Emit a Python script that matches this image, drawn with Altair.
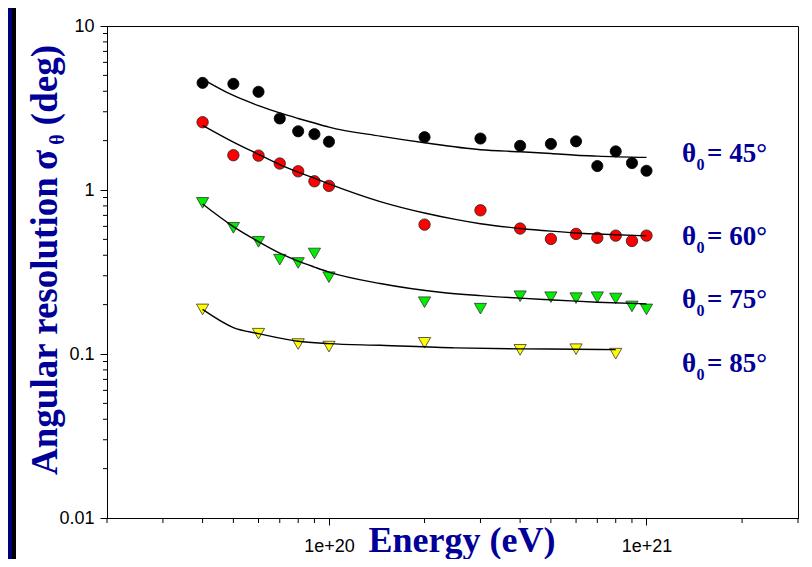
import altair as alt
import pandas as pd

# ---------------- data ----------------
energy = [4e19, 5e19, 6e19, 7e19, 8e19, 9e19, 1e20, 2e20, 3e20, 4e20, 5e20, 6e20, 7e20, 8e20, 9e20, 1e21]
sigma45 = [4.50, 4.44, 3.97, 2.73, 2.28, 2.19, 1.97, 2.10, 2.06, 1.86, 1.91, 1.98, 1.40, 1.72, 1.46, 1.31]
sigma60 = [2.59, 1.63, 1.62, 1.45, 1.30, 1.13, 1.06, 0.615, 0.752, 0.582, 0.503, 0.540, 0.511, 0.527, 0.489, 0.527]
sigma75 = [0.835, 0.588, 0.483, 0.376, 0.359, 0.410, 0.294, 0.207, 0.189, 0.225, 0.222, 0.219, 0.222, 0.218, 0.195, 0.187]
energy85 = [4e19, 6e19, 8e19, 1e20, 2e20, 4e20, 6e20, 8e20]
sigma85 = [0.187, 0.133, 0.115, 0.111, 0.117, 0.106, 0.107, 0.1005]

fit45_e = [4e19, 5e19, 6e19, 7e19, 8e19, 9e19, 1e20, 1.45e20, 2e20, 3e20, 4e20, 5e20, 6e20, 7e20, 1e21]
fit45_s = [4.75, 3.77, 3.27, 2.95, 2.73, 2.56, 2.42, 2.13, 1.94, 1.76, 1.71, 1.67, 1.63, 1.61, 1.58]
fit60_e = [4e19, 5e19, 6e19, 7e19, 8e19, 9e19, 1e20, 1.45e20, 2e20, 2.5e20, 3e20, 4e20, 5e20, 6e20, 7e20, 1e21]
fit60_s = [2.48, 1.96, 1.65, 1.43, 1.285, 1.18, 1.09, 0.85, 0.724, 0.662, 0.623, 0.583, 0.561, 0.547, 0.539, 0.525]
fit75_e = [4e19, 5e19, 6e19, 7e19, 8e19, 9e19, 1e20, 1.45e20, 2.24e20, 3e20, 4e20, 5e20, 6e20, 7e20, 1e21]
fit75_s = [0.821, 0.598, 0.484, 0.412, 0.3685, 0.339, 0.316, 0.269, 0.238, 0.227, 0.219, 0.214, 0.210, 0.207, 0.202]
fit85_e = [4e19, 5e19, 6e19, 7e19, 8e19, 1e20, 1.45e20, 2.5e20, 4e20, 6e20, 8e20]
fit85_s = [0.187, 0.145, 0.133, 0.125, 0.1195, 0.1156, 0.113, 0.109, 0.1074, 0.107, 0.1063]

x_major = [1e20, 1e21]
x_minor = [2e19, 3e19, 4e19, 5e19, 6e19, 7e19, 8e19, 9e19,
           2e20, 3e20, 4e20, 5e20, 6e20, 7e20, 8e20, 9e20, 2e21, 3e21]
y_major = [0.01, 0.1, 1, 10]
y_minor = [0.02, 0.03, 0.04, 0.05, 0.06, 0.07, 0.08, 0.09,
           0.2, 0.3, 0.4, 0.5, 0.6, 0.7, 0.8, 0.9,
           2, 3, 4, 5, 6, 7, 8, 9]

labels = ["= 45°", "= 60°", "= 75°", "= 85°"]
x_title = "Energy (eV)"
y_title_words = "Angular resolution"
y_title_sigma = "σ"
y_title_sub = "θ"
y_title_end = "(deg)"

# ---------------- styling ----------------
NAVY = "#000099"
SERIF = "Liberation Serif"
SANS = "Liberation Sans"
W, H = 691, 492

xs = alt.Scale(type="log", domain=[2e19, 3e21])
ys = alt.Scale(type="log", domain=[0.01, 10])

xaxis = alt.Axis(values=x_major, labelExpr="datum.value == 1e20 ? '1e+20' : '1e+21'",
                 title=None, grid=False, tickSize=7, tickColor="black", domainColor="black",
                 labelFont=SANS, labelFontSize=18, labelColor="black", labelPadding=12)
yaxis = alt.Axis(values=y_major,
                 labelExpr="datum.value == 10 ? '10' : datum.value == 1 ? '1' : datum.value == 0.1 ? '0.1' : '0.01'",
                 title=None, grid=False, tickSize=7, tickColor="black", domainColor="black",
                 labelFont=SANS, labelFontSize=18, labelColor="black", labelPadding=6)


def enc(chart):
    return chart.encode(
        x=alt.X("e:Q", scale=xs, axis=xaxis),
        y=alt.Y("s:Q", scale=ys, axis=yaxis),
    )


def points(e, s, shape, fill, stroke, size):
    df = pd.DataFrame({"e": e, "s": s})
    return enc(alt.Chart(df).mark_point(shape=shape, filled=True, fill=fill, stroke=stroke,
                                        strokeWidth=0.8, size=size, opacity=1))


def fit(e, s):
    df = pd.DataFrame({"e": e, "s": s})
    return enc(alt.Chart(df).mark_line(color="black", strokeWidth=1.4, interpolate="monotone"))


def text(t, x, y, size, angle=0, align="left", color=NAVY, font=SERIF, weight="bold"):
    return alt.Chart(pd.DataFrame({"t": [t]})).mark_text(
        font=font, fontSize=size, fontWeight=weight, color=color, angle=angle,
        align=align, baseline="alphabetic"
    ).encode(text="t:N", x=alt.value(x), y=alt.value(y))


layers = []

# data points
layers.append(points(energy, sigma45, "circle", "black", "black", 125))
layers.append(points(energy, sigma60, "circle", "#ff0000", "#222222", 130))
layers.append(points(energy, sigma75, "triangle-down", "#00ee00", "#333333", 150))
layers.append(points(energy85, sigma85, "triangle-down", "#ffff00", "#333333", 150))

# fitted curves
layers.append(fit(fit45_e, fit45_s))
layers.append(fit(fit60_e, fit60_s))
layers.append(fit(fit75_e, fit75_s))
layers.append(fit(fit85_e, fit85_s))

# minor ticks (through the same scales)
layers.append(alt.Chart(pd.DataFrame({"e": x_minor})).mark_rule(color="black", strokeWidth=1).encode(
    x=alt.X("e:Q", scale=xs, axis=xaxis), y=alt.value(H), y2=alt.value(H + 5)))
layers.append(alt.Chart(pd.DataFrame({"s": y_minor})).mark_rule(color="black", strokeWidth=1).encode(
    y=alt.Y("s:Q", scale=ys, axis=yaxis), x=alt.value(-4), x2=alt.value(0)))

# left border strip (navy + black)
layers.append(alt.Chart(pd.DataFrame({"a": [0]})).mark_rect(color="#00007a").encode(
    x=alt.value(-99), x2=alt.value(-95), y=alt.value(-18), y2=alt.value(H + 41)))
layers.append(alt.Chart(pd.DataFrame({"a": [0]})).mark_rect(color="#000000").encode(
    x=alt.value(-95), x2=alt.value(-91), y=alt.value(-18), y2=alt.value(H + 41)))

# right-hand labels  θ0 = ..°
for lab, yb in zip(labels, [135.7, 219.0, 282.3, 345.7]):
    layers.append(text("θ", 575, yb, 27))
    layers.append(text("0", 589.5, yb + 8, 16))
    layers.append(text(lab, 600, yb, 27))

# axis titles
layers.append(text(x_title, 355, 526, 36, align="center"))
layers.append(text(y_title_words, -50, 449, 37, angle=270, align="left"))
layers.append(text(y_title_sigma, -50, 134, 37, angle=270, align="center"))
layers.append(text(y_title_sub, -43, 113.5, 20, angle=270, align="center"))
layers.append(text(y_title_end, -50, 19, 37, angle=270, align="right"))

chart = alt.layer(*layers).properties(
    width=W, height=H,
    padding={"left": 99, "top": 18, "right": 6, "bottom": 41},
    autosize=alt.AutoSizeParams(type="none"),
    background="white",
).configure_view(stroke="black", strokeWidth=1)

chart.save("out.html", embed_options={"renderer": "svg", "actions": False})
